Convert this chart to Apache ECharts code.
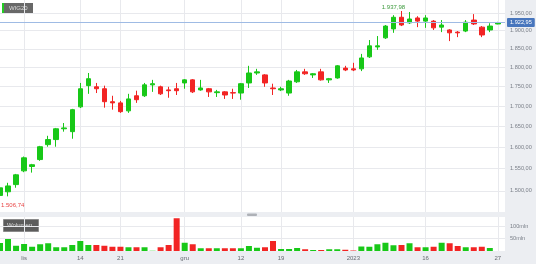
<!DOCTYPE html>
<html><head><meta charset="utf-8">
<script src="https://cdn.jsdelivr.net/npm/echarts@6/dist/echarts.min.js"></script>
<style>html,body{margin:0;padding:0;background:#eceef2}#c{width:536px;height:264px}</style>
</head><body><div id="c"></div>
<script>
const dates = ['2022-10-27','2022-10-28','2022-10-31','2022-11-02','2022-11-03','2022-11-04','2022-11-07','2022-11-08','2022-11-09','2022-11-10',
'2022-11-14','2022-11-15','2022-11-16','2022-11-17','2022-11-18','2022-11-21','2022-11-22','2022-11-23','2022-11-24','2022-11-25',
'2022-11-28','2022-11-29','2022-11-30','2022-12-01','2022-12-02','2022-12-05','2022-12-06','2022-12-07','2022-12-08','2022-12-09',
'2022-12-12','2022-12-13','2022-12-14','2022-12-15','2022-12-16','2022-12-19','2022-12-20','2022-12-21','2022-12-22','2022-12-23',
'2022-12-27','2022-12-28','2022-12-29','2022-12-30','2023-01-02','2023-01-03','2023-01-04','2023-01-05','2023-01-09','2023-01-10',
'2023-01-11','2023-01-12','2023-01-13','2023-01-16','2023-01-17','2023-01-18','2023-01-19','2023-01-20','2023-01-23','2023-01-24',
'2023-01-25','2023-01-26','2023-01-27'];
const opens = [1490,1498,1514,1545,1555,1571,1606,1618,1644,1637,
1698,1752,1749,1744,1711,1708,1688,1726,1726,1754,
1749,1741,1744,1759,1767,1741,1744,1734,1736,1734,
1733,1759,1785,1780,1746,1741,1733,1762,1788,1780,
1788,1767,1772,1798,1796,1796,1828,1855,1880,1905,
1938,1922,1936,1927,1927,1910,1902,1896,1899,1930,
1910,1902,1919];
const closes = [1506.74,1511,1536,1575,1559,1601,1618,1644,1646,1691,
1744,1770,1744,1711,1708,1686,1718,1716,1754,1757,
1731,1739,1739,1767,1736,1746,1736,1736,1728,1733,
1757,1785,1788,1759,1744,1744,1764,1788,1783,1783,
1767,1770,1804,1793,1793,1825,1858,1858,1913,1937.98,
1916,1933,1927,1936,1908,1916,1894,1894,1924,1919,
1888,1913,1922.95];
const lows = [1485,1488,1507,1542,1541,1568,1601,1601,1637,1620,
1695,1731,1733,1696,1691,1683,1683,1708,1723,1736,
1728,1721,1728,1744,1733,1739,1723,1723,1718,1718,
1716,1746,1780,1749,1728,1738,1726,1759,1780,1772,
1765,1759,1770,1790,1790,1790,1825,1847,1877,1894,
1913,1919,1910,1908,1902,1896,1871,1882,1896,1916,
1882,1896,1918];
const highs = [1510,1518,1538,1578,1561,1603,1627,1646,1658,1693,
1759,1785,1759,1752,1726,1713,1731,1739,1759,1767,
1752,1749,1759,1769,1769,1767,1746,1741,1738,1744,
1759,1804,1796,1782,1757,1749,1767,1793,1796,1785,
1796,1772,1806,1804,1812,1836,1874,1885,1916,1944,
1956,1953,1941,1944,1930,1930,1904,1899,1930,1947,
1913,1921,1925];
const volumes = [32,48,21,28,17,27,31,15,15,24,
40,24,24,21,17,17,15,15,15,1,
15,24,131,33,27,11,11,11,11,11,
11,20,13,15,40,8,8,12,7,4,
4,7,7,5,2,18,17,27,33,23,
24,31,15,15,17,33,31,20,15,15,
17,12,0];
const xTickIdx = [3,10,15,23,30,35,44,53,62];
const xTickLabels = ['lis','14','21','gru','12','19','2023','16','27'];
const priceTicks = [1500,1550,1600,1650,1700,1750,1800,1850,1900,1950];
const volTicks = [50,100];

const UP = '#18c818', DOWN = '#f22424';
const FONT = 'Liberation Sans';
function plFmt(v){const s=Number(v).toFixed(2).split('.');return s[0].replace(/\B(?=(\d{3})+(?!\d))/g,'.')+','+s[1];}

const candleData = dates.map((d,i)=>[i, opens[i], closes[i], lows[i], highs[i]]);
const volData = dates.map((d,i)=>({value:[i, volumes[i]], itemStyle:{color: closes[i]>=opens[i]?UP:DOWN}}));
let maxI=0,minI=0;
closes.forEach((c,i)=>{if(c>closes[maxI])maxI=i; if(c<closes[minI])minI=i;});
const lastI = closes.length-1;
const labelMap = {}; xTickIdx.forEach((t,j)=>labelMap[t]=xTickLabels[j]);

const gridLine = {show:true, lineStyle:{color:'#e8e9ed', width:1}};
const chart = echarts.init(document.getElementById('c'), null, {renderer:'canvas'});
chart.setOption({
  animation:false,
  backgroundColor:'#eceef2',
  grid:[
    {left:0, top:0, width:505, height:212, show:true, backgroundColor:'#ffffff', borderWidth:0},
    {left:0, top:217, width:505, height:34, show:true, backgroundColor:'#ffffff', borderWidth:0}
  ],
  xAxis:[
    {type:'value', gridIndex:0, min:0, max:62.89, axisLine:{show:false}, axisTick:{show:false, customValues:xTickIdx},
     axisLabel:{show:false, customValues:xTickIdx}, splitLine:gridLine},
    {type:'value', gridIndex:1, min:0, max:62.89, axisLine:{show:false}, axisTick:{show:false, customValues:xTickIdx},
     axisLabel:{show:true, customValues:xTickIdx, formatter:v=>labelMap[Math.round(v)]||'', fontSize:6, fontFamily:FONT, color:'#666a70', margin:4, showMinLabel:true, showMaxLabel:true},
     splitLine:gridLine}
  ],
  yAxis:[
    {type:'log', logBase:10, gridIndex:0, position:'right', min:1454, max:1988, axisLine:{show:false},
     axisTick:{show:false, customValues:priceTicks},
     axisLabel:{customValues:priceTicks, formatter:v=>plFmt(v), fontSize:5.6, fontFamily:FONT, color:'#7a7f88', margin:5, align:'left'},
     splitLine:gridLine},
    {type:'value', gridIndex:1, position:'right', min:0, max:136, axisLine:{show:false},
     axisTick:{show:false, customValues:volTicks},
     axisLabel:{customValues:volTicks, formatter:v=>v+'mln', fontSize:5.6, fontFamily:FONT, color:'#7a7f88', margin:5, align:'left'},
     splitLine:gridLine}
  ],
  series:[
    {type:'candlestick', xAxisIndex:0, yAxisIndex:0, data:candleData, barWidth:5, clip:true,
     itemStyle:{color:UP, color0:DOWN, borderColor:UP, borderColor0:DOWN, borderWidth:1},
     markLine:{silent:true, symbol:'none', animation:false,
       lineStyle:{color:'#9fbbe4', type:'solid', width:1},
       label:{show:true, position:'end', formatter:plFmt(closes[lastI]), color:'#fff', backgroundColor:'#4876bd',
              fontSize:5.6, fontFamily:FONT, padding:[2,3,1,3], borderRadius:1, distance:2},
       data:[{yAxis:closes[lastI]}]},
     markPoint:{silent:true, symbol:'circle', symbolSize:1, itemStyle:{color:'rgba(0,0,0,0)'},
       data:[
        {coord:[maxI, closes[maxI]], label:{show:true, position:'inside', offset:[0,-10], formatter:plFmt(closes[maxI]), color:'#3c9a3c', fontSize:6, fontFamily:FONT}},
        {coord:[minI, closes[minI]], label:{show:true, position:'inside', align:'left', offset:[1,17], formatter:plFmt(closes[minI]), color:'#e84545', fontSize:6, fontFamily:FONT}}
       ]}
    },
    {type:'bar', xAxisIndex:1, yAxisIndex:1, data:volData, barWidth:6}
  ],
  graphic:[
    {type:'rect', left:2, top:3, shape:{width:31, height:10}, style:{fill:'#686868'}},
    {type:'rect', left:2, top:3, shape:{width:2, height:10}, style:{fill:'#22cc22'}},
    {type:'text', left:9, top:5, style:{text:'WIG20', fill:'#dcdcdc', font:'6px "Liberation Sans"'}},
    {type:'rect', left:3, top:219, shape:{width:35, height:12}, style:{fill:'#5c5c5c', stroke:'#8a8a8a', lineWidth:1}},
    {type:'text', left:7, top:222, style:{text:'Wolumen', fill:'#dcdcdc', font:'6px "Liberation Sans"'}},
    {type:'rect', left:247, top:213.5, shape:{width:10, height:2.5, r:1}, style:{fill:'#aeb1b7'}}
  ]
});
</script></body></html>
